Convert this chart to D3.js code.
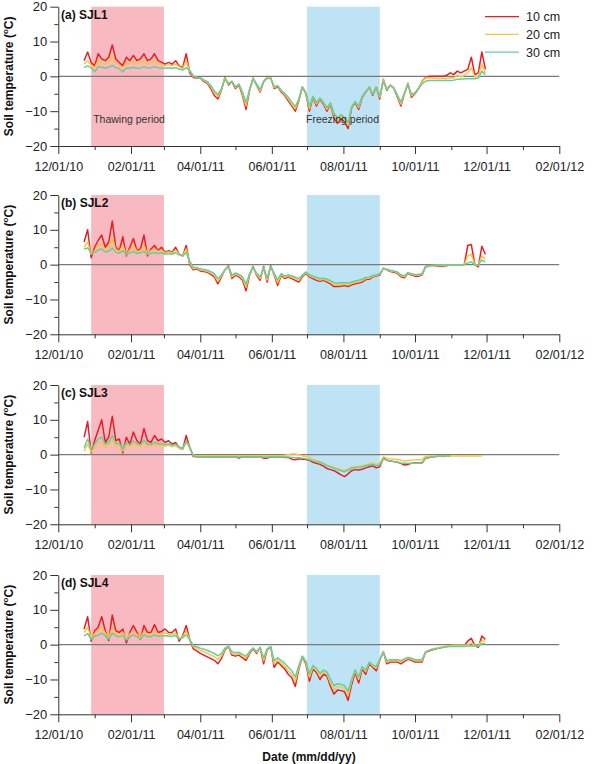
<!DOCTYPE html>
<html>
<head lang="en">
    <meta charset="UTF-8">
    <title>Soil temperature SJL1-SJL4</title>
    <script type="text/javascript" src="https://cdn.jsdelivr.net/npm/d3@7/dist/d3.min.js"></script>
    <style>
        body { margin: 0; background: #fff; }
        text { font-family: Arial, "Liberation Sans", sans-serif; }
    </style>
</head>
<body>
<svg id="mainSvg"></svg>
<script>
    // one reading every 3 days, first one on 12/23/10
    var startDate = new Date(2010, 11, 23), stepDays = 3;

    var sites = ["(a) SJL1", "(b) SJL2", "(c) SJL3", "(d) SJL4"];
    var depths = ["10 cm", "20 cm", "30 cm"];
    var xTickLabels = ["12/01/10", "02/01/11", "04/01/11", "06/01/11", "08/01/11", "10/01/11", "12/01/11", "02/01/12"];
    var xMinorLabels = ["01/01/11", "03/01/11", "05/01/11", "07/01/11", "09/01/11", "11/01/11", "01/01/12"];
    var yTicks = [-20, -10, 0, 10, 20];
    var yMinor = [-15, -5, 5, 15];
    var thawPeriod = ["12/29/10", "03/01/11"];
    var freezePeriod = ["07/01/11", "09/01/11"];

    // SJL1
    var sjl1_10 = [4.5, 7, 4, 3, 6.5, 5, 4.5, 5.5, 9, 5,
        4, 3, 5.5, 4.5, 6, 4.5, 5, 6.5, 4.5, 5,
        6.5, 4.5, 4, 3.5, 4, 3.5, 4.5, 3, 2.5, 6.5,
        1, -0.3, -0.5, -0.5, -1.5, -2, -3.5, -5.5, -6.5, -4,
        -0.3, -2.5, -1.5, -3.5, -2.5, -5.5, -9.5, -4, -0.5, -2.5,
        -4.5, -1.5, -0.3, -0.3, -3.5, -3, -4.5, -5.5, -7, -8.5,
        -10, -7, -3, -5, -10, -6, -8.5, -6.5, -8, -10,
        -8, -12, -13.5, -12, -13, -15, -9, -7.5, -9.5, -6,
        -4.5, -3, -5.5, -3, -6.5, -0.8, -4, -2.5, -3.5, -6,
        -8.5, -5, -2, -6, -5, -3.5, -1.5, -0.3, 0, 0,
        0, 0, 0, 0.3, 1, 0.5, 1.5, 1, 1.5, 2,
        5.5, 0.5, 1, 7, 2];
    var sjl1_20 = [3.5, 4.5, 3.2, 2.5, 4.5, 3.8, 3.5, 4, 6, 3.8,
        3.2, 2.5, 4, 3.5, 4.5, 3.5, 3.8, 4.5, 3.5, 3.8,
        4.5, 3.5, 3.2, 3, 3.3, 3, 3.5, 2.8, 2.2, 4.5,
        1.5, 0, -0.3, -0.4, -1.2, -1.8, -3, -4.8, -5.8, -3.8,
        -0.5, -2.2, -1.3, -3.2, -2.3, -5, -8.5, -3.8, -0.6, -2.3,
        -4.2, -1.5, -0.4, -0.4, -3.2, -2.8, -4.2, -5.2, -6.5, -8,
        -9.3, -6.7, -3, -4.8, -9.3, -5.8, -8, -6.3, -7.7, -9.5,
        -7.8, -11.3, -12.8, -11.5, -12.5, -14, -8.7, -7.3, -9, -5.8,
        -4.4, -3, -5.2, -3, -6, -1, -3.8, -2.5, -3.4, -5.7,
        -8, -4.9, -2.1, -5.6, -4.8, -3.4, -1.6, -0.5, -0.4, -0.5,
        -0.6, -0.6, -0.6, -0.6, -0.4, -0.5, 0.3, -0.2, 0.3, 1,
        2.5, -0.2, 0, 3.5, 1];
    var sjl1_30 = [2.5, 3, 2.5, 1.3, 2.8, 2.6, 2.4, 2.6, 3.2, 2.5,
        2.2, 1.3, 2.4, 2.3, 2.6, 2.3, 2.4, 2.8, 2.4, 2.5,
        2.8, 2.5, 2.4, 2.3, 2.5, 2.3, 2.5, 2.1, 1.8, 2.5,
        1.8, 0.2, -0.3, -0.4, -1, -1.5, -2.6, -4.2, -5.2, -3.6,
        -0.8, -2, -1.5, -3, -2.2, -4.5, -7.5, -3.8, -0.8, -2.2,
        -3.8, -1.6, -0.6, -0.6, -3, -2.7, -4, -4.9, -6, -7.4,
        -8.7, -6.5, -3.2, -4.6, -8.6, -5.7, -7.5, -6.2, -7.4, -9,
        -7.6, -10.6, -12, -11, -12, -13.2, -8.8, -7.2, -8.6, -5.8,
        -4.5, -3.2, -5, -3.2, -5.6, -1.5, -3.7, -2.6, -3.3, -5.4,
        -7.4, -4.8, -2.4, -5.2, -4.7, -3.5, -2.2, -1.4, -1.2, -1.2,
        -1.2, -1.2, -1.2, -1.2, -1.2, -1.1, -0.8, -0.8, -0.7, -0.7,
        -0.7, -0.7, -0.5, 1.5, 0.5];

    // SJL2
    var sjl2_10 = [6.5, 10, 2, 5, 7, 8.5, 5, 6.5, 12.5, 5,
        4, 8, 2.5, 5, 7.5, 4, 4.5, 8.5, 2.5, 4.5,
        5.5, 4, 5, 3.5, 4, 3.5, 5, 3, 2.5, 5.5,
        0, -1.5, -1.2, -1.8, -2, -2.2, -2.8, -3.5, -5.5, -3.5,
        -1.5, -0.3, -4, -3, -3.5, -4.5, -7.5, -3, -0.5, -3,
        -4.5, -0.5, -5, -0.3, -3, -6, -3, -4, -3.5, -4,
        -4.5, -5, -3.5, -2.5, -3.5, -4, -4.5, -4.8, -4.5, -5,
        -5.5, -6.3, -6.3, -6.2, -6, -6.3, -5.8, -5.5, -5.3, -5,
        -4.3, -4.2, -3.5, -3.3, -3, -1, -1.5, -2, -2.2, -2.5,
        -3.5, -3.8, -2.5, -3, -3.3, -3.3, -3, -0.5, -0.3, -0.2,
        -0.3, -0.4, -0.4, -0.3, 0, 0, 0, 0, 0, 5.5,
        5.8, 0, -0.6, 5.3, 3];
    var sjl2_20 = [5, 6.5, 3, 4, 5.5, 6, 4.2, 5, 7.5, 4.3,
        3.8, 5.5, 2.8, 4.2, 5.5, 3.8, 4, 5.5, 3, 4,
        4.5, 3.8, 4.2, 3.3, 3.7, 3.3, 4.2, 3, 2.6, 4.5,
        0.5, -1.2, -1, -1.5, -1.7, -1.9, -2.4, -3, -4.8, -3.2,
        -1.5, -0.5, -3.5, -2.7, -3.1, -4, -6.5, -2.8, -0.7, -2.7,
        -4, -0.8, -4.4, -0.5, -2.7, -5.2, -2.8, -3.6, -3.2, -3.6,
        -4, -4.5, -3.2, -2.3, -3.2, -3.6, -4.1, -4.4, -4.2, -4.6,
        -5.1, -5.8, -5.8, -5.7, -5.6, -5.8, -5.4, -5.1, -4.9, -4.6,
        -4, -3.9, -3.3, -3.1, -2.8, -1, -1.4, -1.8, -2, -2.3,
        -3.2, -3.5, -2.4, -2.8, -3, -3, -2.8, -0.6, -0.3, -0.2,
        -0.2, -0.2, -0.2, -0.2, 0, 0, 0, 0, 0, 2.5,
        3, 0, -0.2, 2.5, 1.5];
    var sjl2_30 = [4.5, 4.8, 3.5, 3.5, 4.2, 4.5, 3.6, 3.9, 4.8, 3.6,
        3.3, 4, 3, 3.4, 3.8, 3.2, 3.4, 3.8, 2.9, 3.3,
        3.5, 3.2, 3.4, 3, 3.2, 3, 3.4, 2.8, 2.5, 3.5,
        1, -0.8, -0.8, -1.2, -1.4, -1.6, -2, -2.6, -4, -3,
        -1.5, -0.6, -3, -2.4, -2.8, -3.5, -5.6, -2.6, -0.8, -2.4,
        -3.5, -1, -3.8, -0.6, -2.4, -4.4, -2.6, -3.2, -3, -3.2,
        -3.6, -4, -3, -2.1, -2.9, -3.3, -3.7, -4, -3.9, -4.2,
        -4.6, -5.2, -5.3, -5.2, -5.1, -5.3, -5, -4.7, -4.5, -4.2,
        -3.7, -3.6, -3.1, -2.9, -2.6, -1.1, -1.3, -1.6, -1.8, -2.1,
        -2.9, -3.2, -2.3, -2.6, -2.8, -2.8, -2.6, -0.8, -0.4, -0.3,
        -0.2, -0.1, 0, 0, 0, 0, 0, 0, 0, 0.5,
        0.8, 0, 0, 1.3, 0.8];

    // SJL3 (10 and 30 cm stop in early November)
    var sjl3_10 = [5, 9.5, 0.5, 4, 7, 10, 3.5, 5, 11, 4,
        4.5, 0.5, 5, 3, 6.5, 4, 3, 7.5, 4, 3.5,
        5.5, 4, 4.5, 3.5, 4, 3, 3.5, 2, 1.5, 5.5,
        2, -0.5, -0.6, -0.6, -0.6, -0.6, -0.6, -0.6, -0.6, -0.6,
        -0.6, -0.6, -0.6, -0.6, -1, -0.6, -0.6, -0.6, -0.6, -0.6,
        -0.6, -1, -1, -0.7, -0.7, -0.7, -0.7, -0.8, -0.8, -1.3,
        -1.5, -1.2, -1.3, -1.4, -1.6, -2.2, -2.5, -2.8, -3.3, -4,
        -4.3, -4.6, -5.2, -5.8, -6.3, -5.5, -4.6, -4.3, -4.4, -4.2,
        -3.8, -3.5, -3.2, -3.8, -3.5, -1, -1.6, -1.8, -2, -2.2,
        -2.5, -3, -2.8, -2.5, -2.4, -2.4, -2.4, -1, -0.8, -0.6,
        -0.5, -0.4, -0.5, -0.4, -0.4, null, null, null, null, null,
        null, null, null, null, null];
    var sjl3_20 = [1, 3, 0.8, 2, 3.5, 3.5, 2.2, 2.8, 4.5, 2.5,
        2.7, 1, 2.8, 2.2, 3.2, 2.6, 2.3, 3.5, 2.5, 2.4,
        3, 2.6, 2.7, 2.5, 2.7, 2.3, 2.6, 1.8, 1.5, 3.5,
        2, -0.2, -0.3, -0.3, -0.3, -0.3, -0.3, -0.3, -0.3, -0.3,
        -0.3, -0.3, -0.3, -0.3, -0.3, -0.3, -0.3, -0.3, -0.3, -0.3,
        -0.3, -0.3, -0.3, -0.3, -0.3, -0.3, -0.3, -0.2, 0, 0.2,
        0.2, 0, -0.3, -0.5, -0.8, -1.4, -1.7, -2, -2.5, -3,
        -3.3, -3.6, -4, -4.3, -4.6, -4.1, -3.6, -3.4, -3.4, -3.2,
        -2.9, -2.7, -2.4, -2.8, -2.5, -0.6, -1, -1.2, -1.3, -1.4,
        -1.6, -1.8, -1.7, -1.6, -1.5, -1.5, -1.5, -0.5, -0.4, -0.4,
        -0.4, -0.4, -0.4, -0.4, -0.4, -0.4, -0.4, -0.4, -0.4, -0.4,
        -0.4, -0.4, -0.4, -0.4, null];
    var sjl3_30 = [2, 4.5, 1.5, 3, 4.5, 5, 3, 3.5, 5.5, 3.2,
        3.3, 1.5, 3.5, 2.8, 4, 3.2, 2.8, 4.2, 3, 2.9,
        3.6, 3.1, 3.2, 2.9, 3.1, 2.7, 3, 2.2, 1.8, 4,
        2.3, -0.3, -0.7, -0.7, -0.7, -0.7, -0.7, -0.7, -0.7, -0.7,
        -0.7, -0.7, -0.7, -0.7, -0.7, -0.7, -0.7, -0.7, -0.7, -0.7,
        -0.7, -0.7, -0.7, -0.7, -0.7, -0.7, -0.7, -0.7, -0.7, -0.8,
        -0.9, -0.9, -1, -1.2, -1.4, -1.8, -2, -2.2, -2.6, -3.2,
        -3.5, -3.9, -4.3, -4.6, -4.9, -4.4, -3.9, -3.7, -3.7, -3.5,
        -3.2, -3, -2.8, -3.2, -2.9, -1.2, -1.6, -1.8, -2, -2.2,
        -2.4, -2.5, -2.5, -2.5, -2.5, -2.5, -2.5, -1, -0.8, -0.6,
        -0.5, -0.4, -0.4, -0.4, -0.4, null, null, null, null, null,
        null, null, null, null, null];

    // SJL4
    var sjl4_10 = [4.5, 8, 1, 4, 5, 8, 4, 1.2, 8.5, 4,
        3.5, 4.5, 0.5, 3.5, 5.5, 3.5, 1.5, 5.5, 3.5, 3.5,
        5.8, 3.5, 3.8, 4.5, 3.5, 3.5, 4.5, 1, 2.5, 5.5,
        1.5, -1.2, -1.8, -2.5, -3, -3.5, -4, -4.5, -5.5, -4,
        -1.5, -0.5, -3, -3.3, -3, -3.8, -4.5, -2.5, -1.2, -2.5,
        -0.8, -5.5, -1.5, -0.6, -6.5, -5, -6, -7, -8.5, -9.5,
        -12, -7, -3.5, -5.5, -10.5, -7, -8, -10, -8.5, -9,
        -12, -14.2, -13, -13.2, -13.5, -16, -11.5, -8, -11, -7,
        -8.5, -5.5, -6.5, -7.5, -4.5, -2, -5.5, -5, -5, -5,
        -5.5, -4.8, -4.2, -4.5, -5, -5, -5, -2.2, -1.8, -1.5,
        -1.2, -1, -0.7, -0.5, -0.3, -0.3, -0.3, -0.3, -0.3, 1,
        1.8, -0.3, -0.8, 2.5, 1.5];
    var sjl4_20 = [3.5, 5, 2, 3.2, 3.8, 5, 3.3, 2, 5, 3.3,
        3, 3.5, 1.5, 3, 3.8, 3, 2, 3.8, 3, 3,
        3.8, 3, 3.2, 3.4, 3, 3, 3.3, 1.8, 2.3, 3.8,
        1.5, -0.6, -1, -1.6, -2, -2.5, -3, -3.4, -4.2, -3.3,
        -1.2, -0.5, -2.5, -2.8, -2.6, -3.3, -3.9, -2.2, -1, -2.2,
        -0.8, -4.6, -1.3, -0.6, -5.5, -4.4, -5.3, -6.2, -7.5, -8.5,
        -10.5, -6.5, -3.4, -5.1, -9.4, -6.5, -7.4, -9, -7.9, -8.4,
        -11, -13, -12, -12.2, -12.6, -14.6, -10.6, -7.5, -10, -6.6,
        -7.8, -5.2, -6.1, -6.8, -4.3, -2, -5, -4.6, -4.6, -4.6,
        -5, -4.4, -3.9, -4.2, -4.6, -4.6, -4.6, -2, -1.5, -1.2,
        -1, -0.8, -0.6, -0.4, -0.3, -0.2, -0.2, -0.2, -0.2, 0,
        0.5, -0.2, -0.3, 1.2, 0.8];
    var sjl4_30 = [2.5, 3.2, 1.5, 2.4, 2.7, 3.3, 2.5, 1.6, 3.3, 2.5,
        2.3, 2.6, 1.3, 2.3, 2.8, 2.3, 1.6, 2.8, 2.3, 2.3,
        2.8, 2.4, 2.5, 2.6, 2.4, 2.4, 2.6, 1.6, 2, 2.8,
        1.5, -0.3, -0.6, -1, -1.3, -1.7, -2.1, -2.5, -3.2, -2.6,
        -1, -0.5, -2, -2.3, -2.2, -2.8, -3.3, -2, -1, -2,
        -0.8, -3.8, -1.2, -0.6, -4.6, -3.8, -4.6, -5.4, -6.5, -7.5,
        -9.3, -6, -3.3, -4.7, -8.4, -6, -6.8, -8.2, -7.3, -7.8,
        -10, -11.8, -11.2, -11.4, -11.8, -13.4, -10, -7.2, -9.2, -6.3,
        -7.3, -5, -5.8, -6.3, -4.2, -2.2, -4.6, -4.3, -4.3, -4.3,
        -4.6, -4.1, -3.7, -3.9, -4.3, -4.3, -4.3, -2.2, -1.7, -1.4,
        -1.2, -1, -0.8, -0.6, -0.5, -0.5, -0.5, -0.5, -0.5, -0.4,
        -0.3, -0.4, -0.4, 0.3, 0.2];

    var siteSeries = [
        [sjl1_10, sjl1_20, sjl1_30],
        [sjl2_10, sjl2_20, sjl2_30],
        [sjl3_10, sjl3_20, sjl3_30],
        [sjl4_10, sjl4_20, sjl4_30]
    ];

    var w = 595, h = 764;
    var colors = ["#ec1c24", "#fbc540", "#62cf9c"];
    var panelTops = [6.7, 195, 385, 575], panelH = 139.3;
    var left = 58.3, right = 559.3;

    var parse = d3.timeParse("%m/%d/%y");
    var svg = d3.select("#mainSvg").attr("width", w).attr("height", h)
            .style("background", "#fff");

    var x = d3.scaleTime()
            .domain([parse(xTickLabels[0]), parse(xTickLabels[xTickLabels.length - 1])])
            .range([left, right]);

    var line = d3.line()
            .defined(function (d) { return d.v !== null; })
            .x(function (d) { return x(d.date); })
            .y(function (d) { return d.y; });

    siteSeries.forEach(function (series, p) {
        var top = panelTops[p];
        var y = d3.scaleLinear().domain([-20, 20]).range([top + panelH, top]);
        var g = svg.append("g");

        // shaded periods
        [[thawPeriod, "#f8b9c1"], [freezePeriod, "#bee3f4"]].forEach(function (b) {
            g.append("rect")
                    .attr("x", x(parse(b[0][0])))
                    .attr("width", x(parse(b[0][1])) - x(parse(b[0][0])))
                    .attr("y", y(20))
                    .attr("height", y(-20) - y(20))
                    .attr("fill", b[1]);
        });

        // zero line
        g.append("line")
                .attr("x1", left).attr("x2", right)
                .attr("y1", y(0)).attr("y2", y(0))
                .attr("stroke", "#7a7a7a").attr("stroke-width", 1.2);

        series.forEach(function (vals, k) {
            var pts = vals.map(function (v, i) {
                return {date: d3.timeDay.offset(startDate, i * stepDays), v: v, y: v === null ? 0 : y(v)};
            });
            g.append("path")
                    .datum(pts)
                    .attr("d", line)
                    .attr("fill", "none")
                    .attr("stroke", colors[k])
                    .attr("stroke-width", 1.5)
                    .attr("stroke-linejoin", "round");
        });

        // axes
        var yAxis = g.append("g")
                .attr("transform", "translate(" + left + ",0)")
                .call(d3.axisLeft(y).tickValues(yTicks).tickSize(8).tickSizeOuter(0).tickPadding(3));
        g.append("g")
                .attr("transform", "translate(" + left + ",0)")
                .call(d3.axisLeft(y).tickValues(yMinor).tickSize(4).tickFormat(""))
                .select(".domain").remove();
        var xAxis = g.append("g")
                .attr("transform", "translate(0," + y(-20) + ")")
                .call(d3.axisBottom(x).tickValues(xTickLabels.map(parse))
                        .tickFormat(d3.timeFormat("%m/%d/%y")).tickSize(8).tickSizeOuter(0).tickPadding(8));
        g.append("g")
                .attr("transform", "translate(0," + y(-20) + ")")
                .call(d3.axisBottom(x).tickValues(xMinorLabels.map(parse)).tickSize(4).tickFormat(""))
                .select(".domain").remove();

        g.selectAll(".domain, .tick line").attr("stroke", "#333").attr("stroke-width", 1);
        yAxis.selectAll("text").attr("font-size", 13).attr("fill", "#222")
                .attr("font-family", "Arial, 'Liberation Sans', sans-serif");
        xAxis.selectAll("text").attr("font-size", 12.5).attr("fill", "#222")
                .attr("font-family", "Arial, 'Liberation Sans', sans-serif");

        // panel label
        g.append("text")
                .attr("x", 61).attr("y", top + 12)
                .attr("font-size", 12).attr("font-weight", "bold").attr("fill", "#111")
                .text(sites[p]);

        // y title
        var yt = g.append("text")
                .attr("transform", "translate(13," + y(0) + ") rotate(-90)")
                .attr("text-anchor", "middle")
                .attr("font-size", 12).attr("font-weight", "bold").attr("fill", "#111");
        yt.append("tspan").text("Soil temperature (");
        yt.append("tspan").attr("font-size", 8).attr("dy", -5).text("o");
        yt.append("tspan").attr("dy", 5).text("C)");

        if (p === 0) {
            g.append("text")
                    .attr("x", x(parse(thawPeriod[0])) + 2).attr("y", y(-13.3))
                    .attr("font-size", 10.5).attr("fill", "#333")
                    .text("Thawing period");
            g.append("text")
                    .attr("x", x(parse(freezePeriod[0])) - 1).attr("y", y(-13.3))
                    .attr("font-size", 10.5).attr("fill", "#333")
                    .text("Freezing period");

            var lg = g.selectAll(".legend")
                    .data(depths)
                    .enter()
                    .append("g")
                    .attr("transform", function (d, i) {
                        return "translate(485," + (16.7 + i * 17.7) + ")";
                    });
            lg.append("line")
                    .attr("x1", 0).attr("x2", 34)
                    .attr("stroke", function (d, i) { return colors[i]; })
                    .attr("stroke-width", 1.3);
            lg.append("text")
                    .attr("x", 41).attr("y", 4.5)
                    .attr("font-size", 12.5).attr("fill", "#222")
                    .text(function (d) { return d; });
        }
    });

    svg.append("text")
            .attr("x", 309).attr("y", 761)
            .attr("text-anchor", "middle")
            .attr("font-size", 12).attr("font-weight", "bold").attr("fill", "#111")
            .text("Date (mm/dd/yy)");
</script>
</body>
</html>
